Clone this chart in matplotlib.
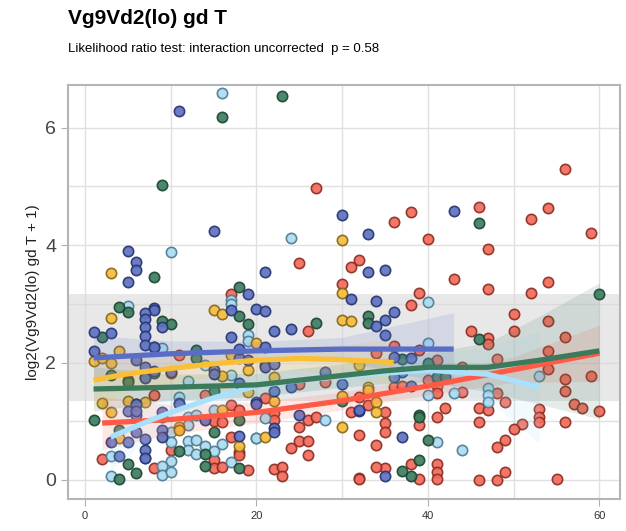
import matplotlib
matplotlib.use("Agg")
import matplotlib.pyplot as plt
import numpy as np

plt.rcParams['font.family'] = ['Liberation Sans', 'DejaVu Sans']

title = "Vg9Vd2(lo) gd T"
subtitle = "Likelihood ratio test: interaction uncorrected  p = 0.58"
ylabel = "log2(Vg9Vd2(lo) gd T + 1)"
xticks = [0, 20, 40, 60]
yticks = [0, 2, 4, 6]

# reference range (grey band)
ref_low, ref_high = 1.35, 3.17

# ---- points per group: (age, value) ----
blue_x = [11, 15, 5, 6, 6, 5, 19, 30, 33, 21, 33, 35, 43, 8, 8, 7, 7, 7, 9, 1, 3, 7, 7, 1, 6,
          20, 17, 17, 18, 19, 8, 7, 10, 6, 5, 6, 9, 3, 5, 6, 7, 7, 7, 9, 9, 4,
          15, 15, 11, 20, 14, 18, 8, 7, 8, 7, 6, 6, 11, 18, 18,
          21, 22, 24, 21, 21, 21, 22, 28, 24, 30, 22, 20, 32, 25, 22, 22, 31,
          34, 36, 35, 34, 35, 38, 36, 37, 36, 38, 32, 37, 35]
blue_y = [6.28, 4.24, 3.90, 3.72, 3.58, 3.38, 3.17, 4.51, 4.19, 3.54, 3.55, 3.58, 4.59, 2.93, 2.89,
          2.85, 2.74, 2.61, 2.60, 2.52, 2.50, 2.45, 2.30, 2.20, 2.04,
          2.91, 2.90, 2.43, 2.08, 2.04, 1.83, 1.76, 1.84, 1.29, 1.18, 1.11, 1.16, 0.65, 0.65, 0.82,
          0.69, 0.51, 0.37, 0.85, 0.74, 0.41,
          1.87, 1.81, 1.31, 1.33, 1.02, 0.75, 2.27, 1.93, 1.86, 1.74, 1.29, 1.18, 1.29, 2.23, 1.65,
          2.88, 2.54, 2.58, 2.27, 1.96, 1.92, 1.98, 1.84, 1.59, 1.64, 1.52, 1.30, 1.18, 1.10, 0.88,
          0.82, 3.08,
          3.05, 2.86, 2.73, 2.62, 2.47, 2.08, 2.10, 1.84, 1.76, 1.60, 1.19, 0.74, 0.06]

yellow_x = [3, 3, 4, 1, 2, 3, 2, 3, 5, 7, 4, 15, 16, 20, 17, 16, 19, 19, 16, 11, 11, 18,
            30, 30, 30, 31, 22, 22, 30, 30, 21, 32, 33, 33, 34, 34]
yellow_y = [3.52, 2.76, 2.20, 2.02, 2.07, 1.99, 1.31, 1.16, 1.35, 1.32, 0.71, 2.90, 2.83, 2.33,
            2.13, 1.77, 1.87, 1.50, 1.20, 0.91, 0.85, 0.58,
            4.08, 3.19, 2.73, 2.70, 1.76, 1.35, 1.43, 0.90, 0.74, 1.96, 1.59, 1.53, 1.33, 1.16]

green_x = [16, 23, 9, 8, 18, 46, 60, 27, 33, 33, 4, 5, 18, 9, 10, 19, 2, 8, 13, 13, 3, 5, 15,
           37, 40, 41, 42, 46, 1, 4, 9, 5, 6, 4, 15, 18, 11, 14, 14, 18, 30, 39, 39, 40, 37,
           39, 38]
green_y = [6.19, 6.54, 5.03, 3.45, 3.29, 4.37, 3.16, 2.68, 2.79, 2.68, 2.94, 2.86, 2.79, 2.71,
           2.65, 2.65, 2.44, 2.27, 2.21, 2.07, 1.79, 1.67, 1.52,
           2.06, 2.00, 1.75, 1.76, 2.41, 1.02, 0.85, 1.08, 0.27, 0.12, 0.02, 0.81, 1.02, 0.50,
           0.45, 0.23, 0.20, 1.35, 1.11, 1.08, 0.68, 0.16, 0.34, 0.06]

lblue_x = [16, 10, 24, 40, 5, 17, 17, 19, 19, 9, 40, 14, 17, 12, 11, 12, 15, 13, 10, 12, 20,
           10, 12, 13, 14, 16, 12, 13, 15, 10, 17, 9, 9, 10, 3, 3, 28, 21, 20, 40, 41, 53, 43,
           47, 47, 47, 44, 7]
lblue_y = [6.60, 3.88, 4.13, 3.04, 2.96, 3.07, 3.00, 2.47, 2.36, 2.24, 2.34, 1.96, 1.78, 1.69,
           1.41, 1.08, 1.19, 1.11, 0.82, 0.94, 0.72, 0.65, 0.67, 0.68, 0.58, 0.61, 0.51, 0.45,
           0.50, 0.33, 0.31, 0.23, 0.09, 0.14, 0.40, 0.07, 1.02, 1.05, 0.71, 1.45, 0.64, 1.77,
           1.49, 1.56, 1.45, 1.32, 0.51, 0.37]

red_x = [56, 27, 46, 54, 38, 52, 36, 59, 40, 47, 32, 31, 25, 43, 30, 47, 54, 52, 17, 39, 38,
         50, 54, 26, 45, 47, 47, 50, 56, 54, 39, 34, 36, 11, 41, 48, 44, 54, 59, 56, 10, 5, 28,
         25, 36, 37, 40, 41, 8, 14, 21, 17, 18, 32, 33, 44, 48, 56, 41, 49, 42, 46, 47, 57, 58,
         60, 53, 53, 53, 46, 51, 50, 56, 35, 35, 35, 31, 39, 41, 15, 16, 17, 18, 18, 15, 15, 16,
         19, 10, 2, 8, 22, 22, 26, 27, 25, 24, 25, 26, 26, 22, 23, 23, 32, 32, 34, 35, 34, 32,
         38, 39, 41, 41, 41, 49, 48, 46, 48, 49, 55]
red_y = [5.29, 4.97, 4.65, 4.63, 4.56, 4.44, 4.39, 4.21, 4.10, 3.93, 3.74, 3.62, 3.69, 3.42,
         3.34, 3.25, 3.37, 3.18, 3.16, 3.19, 2.98, 2.82, 2.70, 2.53, 2.54, 2.42, 2.32, 2.54,
         2.44, 2.20, 2.21, 2.17, 2.28, 2.13, 2.04, 2.06, 1.93, 1.89, 1.77, 1.72, 1.83, 1.70,
         1.67, 1.64, 1.59, 1.60, 1.70, 1.60, 1.45, 1.45, 1.39, 1.27, 1.19, 1.42, 1.28, 1.50,
         1.48, 1.52, 1.48, 1.33, 1.23, 1.23, 1.19, 1.29, 1.23, 1.18, 1.21, 1.07, 0.98, 0.98,
         0.95, 0.86, 0.99, 1.15, 0.97, 0.81, 1.16, 0.93, 1.08, 1.01, 0.98, 0.74, 0.48, 0.43,
         0.34, 0.20, 0.22, 0.17, 0.51, 0.36, 0.20, 1.14, 1.02, 1.02, 1.08, 0.91, 0.54, 0.67,
         0.67, 0.43, 0.18, 0.22, 0.06, 0.03, 0.77, 0.60, 0.20, 0.22, 0.01, 0.28, 0.01, 0.27,
         0.14, 0.01, 0.68, 0.56, 0.00, 0.00, 0.14, 0.02]

# ---- smoothed fits ----
blue_fit_x = [1, 10, 20, 30, 43]
blue_fit_y = [2.08, 2.15, 2.20, 2.23, 2.23]
blue_fit_se = [0.38, 0.22, 0.16, 0.2, 0.62]

yellow_fit_x = [1, 5, 10, 15, 20, 25, 30, 36]
yellow_fit_y = [1.70, 1.81, 1.90, 1.98, 2.04, 2.07, 2.05, 2.00]
yellow_fit_se = [0.45, 0.32, 0.25, 0.22, 0.2, 0.2, 0.25, 0.4]

green_fit_x = [1, 10, 20, 25, 30, 35, 40, 47, 53, 60]
green_fit_y = [1.55, 1.58, 1.62, 1.70, 1.78, 1.86, 1.92, 1.92, 2.04, 2.20]
green_fit_se = [0.38, 0.22, 0.2, 0.2, 0.2, 0.22, 0.25, 0.42, 0.75, 1.16]

lblue_fit_x = [3, 7, 10, 15, 20, 25, 30, 35, 40, 47, 53]
lblue_fit_y = [0.73, 0.98, 1.15, 1.40, 1.60, 1.70, 1.76, 1.82, 1.87, 1.80, 1.58]
lblue_fit_se = [0.55, 0.35, 0.25, 0.22, 0.2, 0.2, 0.2, 0.22, 0.25, 0.45, 0.95]

red_fit_x = [2, 10, 20, 30, 40, 50, 60]
red_fit_y = [0.97, 1.03, 1.15, 1.35, 1.60, 1.88, 2.16]
red_fit_se = [0.45, 0.25, 0.18, 0.15, 0.15, 0.22, 0.48]

groups = [
    (red_x, red_y, red_fit_x, red_fit_y, red_fit_se, '#f26b5b', '#8c2e24', '#ff5a45'),
    (lblue_x, lblue_y, lblue_fit_x, lblue_fit_y, lblue_fit_se, '#abdcf3', '#4f7c8f', '#a9e0fb'),
    (green_x, green_y, green_fit_x, green_fit_y, green_fit_se, '#3f7d60', '#1c4633', '#3c7a5c'),
    (yellow_x, yellow_y, yellow_fit_x, yellow_fit_y, yellow_fit_se, '#f6bd3c', '#86661a', '#fbbf35'),
    (blue_x, blue_y, blue_fit_x, blue_fit_y, blue_fit_se, '#5f72c2', '#27356f', '#5a6dc6'),
]

fig = plt.figure(figsize=(6.26, 5.31), dpi=100)
ax = fig.add_axes([0.1086, 0.0603, 0.8818, 0.7797])

ax.axhspan(ref_low, ref_high, color='#d9d9d9', alpha=0.6, lw=0, zorder=1)

for gx, gy, fx, fy, fse, fc, ec, lc in groups:
    ax.scatter(gx, gy, s=55, c=fc, edgecolors=ec, linewidths=1.2, alpha=0.92, zorder=3)

for gx, gy, fx, fy, fse, fc, ec, lc in groups:
    fx_a = np.array(fx); fy_a = np.array(fy); se = np.array(fse)
    ax.fill_between(fx_a, fy_a - se, fy_a + se, color=lc, alpha=0.14, lw=0, zorder=4)

for gx, gy, fx, fy, fse, fc, ec, lc in groups:
    ax.plot(fx, fy, color=lc, lw=3.8, solid_capstyle='butt', solid_joinstyle='round', zorder=5)

ax.set_xlim(-1.98, 62.4)
ax.set_ylim(-0.324, 6.73)
ax.set_xticks(xticks)
ax.set_yticks(yticks)
ax.set_xticks([10, 30, 50], minor=True)
ax.set_yticks([1, 3, 5], minor=True)
ax.grid(True, which='both', color='#e0e0e0', lw=1.0, zorder=0)
ax.set_axisbelow(True)
ax.tick_params(axis='x', which='major', labelsize=8, colors='#b0b0b0', labelcolor='#333333', length=5)
ax.tick_params(axis='y', which='major', labelsize=14, colors='#b0b0b0', labelcolor='#444444', length=5)
ax.tick_params(which='minor', length=0)
for s in ax.spines.values():
    s.set_color('#b5b5b5')
    s.set_linewidth(1.5)

ax.set_ylabel(ylabel, fontsize=11, color='#222222', labelpad=4)

fig.text(0.1086, 0.965, title, fontsize=15, fontweight='bold', ha='left', va='center')
fig.text(0.1086, 0.908, subtitle, fontsize=9.5, ha='left', va='center')

fig.savefig("out.png", dpi=100)
